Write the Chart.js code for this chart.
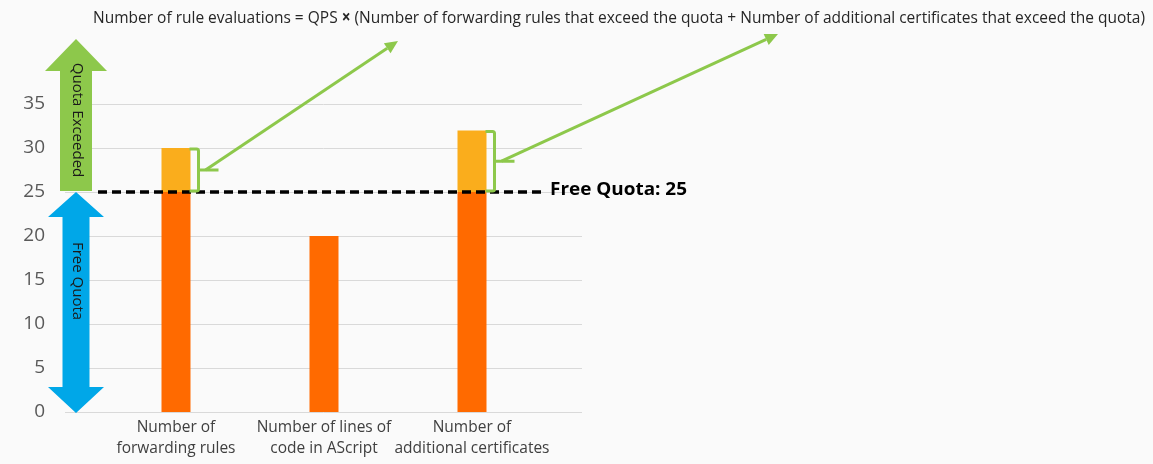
<!DOCTYPE html>
<html><head><meta charset="utf-8">
<script src="https://cdn.jsdelivr.net/npm/chart.js@4.4.0/dist/chart.umd.min.js"></script>
<style>html,body{margin:0;padding:0;background:#fafafa;} #wrap{width:1153px;height:464px;position:relative}</style>
</head><body><div id="wrap"><canvas id="c" width="1153" height="464"></canvas></div>
<script>
const categories = [["Number of","forwarding rules"],["Number of lines of","code in AScript"],["Number of","additional certificates"]];
const freeValues = [25, 20, 25];
const exceededValues = [5, 0, 7];
const yTickStep = 5;
const yMin = 0;
const yMax = 35;
const quota = 25;
const quotaLabel = "Free Quota: 25";
const titleParts = ["Number of rule evaluations = QPS ", "×", " (Number of forwarding rules that exceed the quota + Number of additional certificates that exceed the quota)"];
const arrowUpLabel = "Quota Exceeded";
const arrowDownLabel = "Free Quota";

const FONT = "'Open Sans', 'Noto Sans', sans-serif";
const GREEN = "#8DC84B";
const BLUE = "#00A7E8";
const ORANGE = "#FF6A00";
const YELLOW = "#FAAD1C";

function poly(ctx, pts, color){
  ctx.beginPath();
  ctx.moveTo(pts[0][0], pts[0][1]);
  for (let i=1;i<pts.length;i++) ctx.lineTo(pts[i][0], pts[i][1]);
  ctx.closePath();
  ctx.fillStyle = color; ctx.fill();
}

function fitText(ctx, parts, fonts, x, y, width){
  const widths = parts.map((p, i) => { ctx.font = fonts[i]; return ctx.measureText(p).width; });
  const total = widths.reduce((a,b)=>a+b, 0);
  ctx.save(); ctx.translate(x, y); ctx.scale(width / total, 1);
  let cx = 0;
  parts.forEach((p, i) => { ctx.font = fonts[i]; ctx.fillText(p, cx, 0); cx += widths[i]; });
  ctx.restore();
}

const overlay = {
  id: 'overlay',
  beforeDatasetsDraw(chart){
    const ctx = chart.ctx, ys = chart.scales.y, ca = chart.chartArea;
    ctx.save();
    ctx.strokeStyle = '#d9d9d9'; ctx.lineWidth = 1;
    ys.ticks.forEach(t => {
      const y = Math.round(ys.getPixelForValue(t.value)) + 0.5;
      ctx.beginPath(); ctx.moveTo(ca.left - 37, y); ctx.lineTo(ca.right + 36, y); ctx.stroke();
    });
    ctx.restore();
  },
  afterDatasetsDraw(chart){
    const ctx = chart.ctx, ys = chart.scales.y, ca = chart.chartArea;
    const yq = ys.getPixelForValue(quota);
    const y0 = ys.getPixelForValue(0);
    ctx.save();
    // dashed quota line
    ctx.strokeStyle = '#000'; ctx.lineWidth = 3.5; ctx.setLineDash([9,5]);
    ctx.beginPath(); ctx.moveTo(ca.left - 4, yq); ctx.lineTo(ca.right - 1, yq); ctx.stroke();
    ctx.setLineDash([]);
    ctx.fillStyle = '#000'; ctx.textBaseline = 'middle'; ctx.textAlign = 'left';
    fitText(ctx, [quotaLabel], ["bold 18px " + FONT], ca.right + 4, yq - 2, 137);

    // arrows
    const cx = ca.left - 26;
    // green up arrow
    const gTip = yq - 153, gBase = yq - 121;
    poly(ctx, [[cx-16, yq-1],[cx-16, gBase],[cx-31, gBase],[cx, gTip],[cx+31, gBase],[cx+16, gBase],[cx+16, yq-1]], GREEN);
    // blue double arrow
    const bTop = yq, bTopBase = yq + 25, bBotBase = y0 - 25, bBot = y0 + 1;
    poly(ctx, [[cx, bTop],[cx+28, bTopBase],[cx+13.5, bTopBase],[cx+13.5, bBotBase],[cx+28, bBotBase],[cx, bBot],[cx-28, bBotBase],[cx-13.5, bBotBase],[cx-13.5, bTopBase],[cx-28, bTopBase]], BLUE);

    // rotated labels
    ctx.fillStyle = '#1a1a1a'; ctx.font = "15px " + FONT; ctx.textAlign = 'center'; ctx.textBaseline = 'middle';
    ctx.save(); ctx.translate(cx + 1, yq - 72); ctx.rotate(Math.PI/2); ctx.fillText(arrowUpLabel, 0, 0, 118); ctx.restore();
    ctx.save(); ctx.translate(cx + 1, yq + 89); ctx.rotate(Math.PI/2); ctx.fillText(arrowDownLabel, 0, 0, 80); ctx.restore();

    // brackets & callout arrows
    const tips = [[398, 41], null, [778, 34]];
    const meta = chart.getDatasetMeta(1);
    ctx.strokeStyle = GREEN; ctx.lineWidth = 3; ctx.lineJoin = 'round'; ctx.lineCap = 'butt';
    meta.data.forEach((el, i) => {
      if (!exceededValues[i] || !tips[i]) return;
      const x0 = el.x + el.width/2 - 1, x1 = x0 + 9;
      const top = el.y + 1, bot = el.base - 1, mid = (top + bot)/2;
      ctx.beginPath();
      ctx.moveTo(x0, top); ctx.lineTo(x1 - 2, top); ctx.quadraticCurveTo(x1, top, x1, top + 2);
      ctx.lineTo(x1, bot - 2); ctx.quadraticCurveTo(x1, bot, x1 - 2, bot); ctx.lineTo(x0, bot);
      ctx.moveTo(x1, mid); ctx.lineTo(x1 + 20, mid);
      ctx.stroke();
      const sx = x1 + 7, sy = mid;
      const [tx, ty] = tips[i];
      const ang = Math.atan2(ty - sy, tx - sx);
      const hl = 13, hw = 6;
      const bx = tx - hl*Math.cos(ang), by = ty - hl*Math.sin(ang);
      ctx.beginPath(); ctx.moveTo(sx, sy); ctx.lineTo(bx, by); ctx.stroke();
      poly(ctx, [[tx, ty],[bx + hw*Math.sin(ang), by - hw*Math.cos(ang)],[bx - hw*Math.sin(ang), by + hw*Math.cos(ang)]], GREEN);
    });

    // title
    ctx.textAlign = 'left'; ctx.textBaseline = 'middle'; ctx.fillStyle = '#262626';
    fitText(ctx, titleParts, ["17px " + FONT, "bold 17px " + FONT, "17px " + FONT], 93, 18, 1052);
    ctx.restore();
  }
};

new Chart(document.getElementById('c'), {
  type: 'bar',
  data: {
    labels: categories,
    datasets: [
      { label: 'Free', data: freeValues, backgroundColor: ORANGE, barPercentage: 0.196, categoryPercentage: 1, stack: 's' },
      { label: 'Exceeded', data: exceededValues, backgroundColor: YELLOW, barPercentage: 0.196, categoryPercentage: 1, stack: 's' }
    ]
  },
  options: {
    responsive: false, animation: false, devicePixelRatio: 1,
    layout: { padding: { left: 0, right: 607, top: 104, bottom: 0 } },
    plugins: { legend: { display: false }, tooltip: { enabled: false } },
    scales: {
      x: {
        stacked: true, offset: true,
        grid: { display: false, drawTicks: false }, border: { display: false },
        ticks: { font: { family: FONT, size: 15.5, lineHeight: 1.3 }, color: '#404040', padding: 6, maxRotation: 0, autoSkip: false },
        afterFit: s => { s.height = 52; s.paddingLeft = 0; s.paddingRight = 0; }
      },
      y: {
        stacked: true, min: yMin, max: yMax,
        grid: { display: false, drawTicks: false }, border: { display: false },
        ticks: { stepSize: yTickStep, font: { family: FONT, size: 19 }, color: '#595959', padding: 57 },
        afterFit: s => { s.width = 102; s.paddingTop = 0; s.paddingBottom = 0; }
      }
    }
  },
  plugins: [overlay]
});
</script></body></html>
